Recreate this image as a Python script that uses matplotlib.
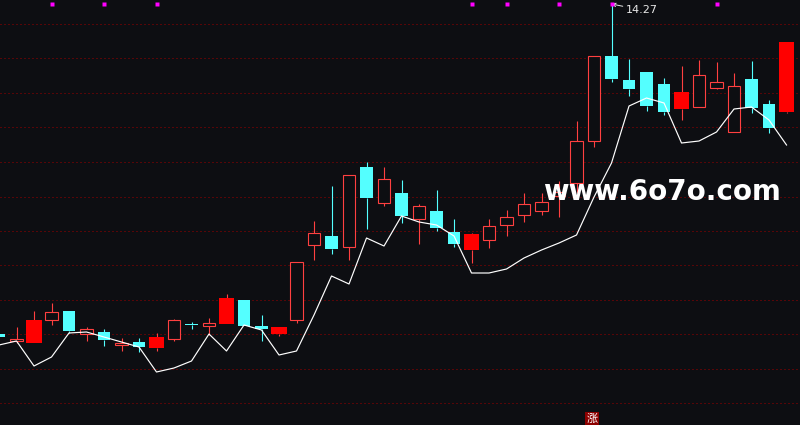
import matplotlib
matplotlib.use("Agg")
import matplotlib.pyplot as plt
from matplotlib.patches import Rectangle

# values, one entry per session
# c = falling (cyan), h = rising (hollow red), f = rising (filled red)
kinds = list("chfhchchcfhchfccfhhchchchccfhhhhhhhccccfhhhccf")
highs = [7.67, 7.81, 8.13, 8.29, 8.13, 7.81, 7.77, 7.59, 7.59, 7.69, 7.97, 7.91, 7.99, 8.47, 8.35, 8.05,
         7.81, 9.12, 9.93, 10.63, 10.85, 11.11, 11.01, 10.75, 10.27, 10.55, 9.97, 9.69, 9.97, 10.15, 10.49,
         10.49, 10.73, 11.93, 13.23, 14.27, 13.17, 12.91, 12.79, 13.03, 13.15, 13.11, 12.89, 13.13, 12.35, 13.51]
tops = [7.67, 7.57, 7.95, 8.11, 8.13, 7.77, 7.71, 7.49, 7.51, 7.61, 7.95, 7.87, 7.89, 8.39, 8.35, 7.83,
        7.81, 9.12, 9.69, 9.63, 10.85, 11.01, 10.77, 10.49, 10.23, 10.13, 9.71, 9.67, 9.83, 10.01, 10.27,
        10.31, 10.51, 11.53, 13.23, 13.23, 12.75, 12.91, 12.67, 12.51, 12.85, 12.71, 12.63, 12.77, 12.27, 13.51]
bottoms = [7.61, 7.53, 7.49, 7.96, 7.73, 7.67, 7.55, 7.45, 7.41, 7.39, 7.57, 7.85, 7.83, 7.87, 7.83, 7.77,
           7.67, 7.96, 9.45, 9.37, 9.41, 10.39, 10.29, 10.03, 9.97, 9.79, 9.47, 9.35, 9.55, 9.85, 10.05,
           10.13, 10.43, 10.69, 11.53, 12.77, 12.57, 12.23, 12.11, 12.17, 12.21, 12.59, 11.71, 12.19, 11.79, 12.11]
lows = [7.61, 7.49, 7.49, 7.85, 7.69, 7.53, 7.43, 7.33, 7.31, 7.33, 7.53, 7.77, 7.65, 7.87, 7.83, 7.53,
        7.63, 7.89, 9.15, 9.27, 9.15, 9.77, 10.23, 9.89, 9.47, 9.73, 9.41, 9.09, 9.39, 9.63, 9.91,
        10.05, 10.01, 10.49, 11.41, 12.71, 12.43, 12.13, 12.05, 11.95, 12.21, 12.57, 11.71, 12.09, 11.69, 12.09]
ma_line = [7.45, 7.53, 7.03, 7.21, 7.69, 7.71, 7.61, 7.51, 7.41, 6.91, 6.99, 7.13, 7.67, 7.33, 7.85, 7.75,
           7.25, 7.33, 8.05, 8.83, 8.67, 9.59, 9.43, 10.03, 9.91, 9.85, 9.63, 8.89, 8.89, 8.97, 9.19,
           9.35, 9.49, 9.65, 10.41, 11.09, 12.23, 12.39, 12.29, 11.49, 11.53, 11.71, 12.17, 12.21, 11.95, 11.45]
grid_levels = [13.87, 13.19, 12.49, 11.81, 11.11, 10.41, 9.73, 9.05, 8.35, 7.67, 6.97, 6.29]
signal_days = [3, 6, 9, 27, 29, 32, 35, 41]
signal_level = 14.28
peak_day = 35
peak_price = 14.27

BG = "#0d0e12"
RED = "#ff4040"
FILLED = "#ff0000"
CYAN = "#54ffff"

fig = plt.figure(figsize=(8, 4.25), dpi=100, facecolor=BG)
ax = fig.add_axes([0, 0, 1, 1], facecolor=BG)
ax.set_xlim(0.057, 45.77)
ax.set_ylim(5.85, 14.35)
ax.axis("off")

for level in grid_levels:
    ax.axhline(level, color="#a00000", lw=0.72, ls=(0, (1, 3)), zorder=1)

for i in range(len(kinds)):
    kind = kinds[i]
    if kind == "c":
        col = CYAN
    elif kind == "f":
        col = FILLED
    else:
        col = RED
    wick = CYAN if kind == "c" else RED
    ax.vlines(i, tops[i], highs[i], color=wick, lw=0.8, zorder=2, snap=True)
    ax.vlines(i, lows[i], bottoms[i], color=wick, lw=0.8, zorder=2, snap=True)
    width = 0.86 if kind == "f" else 0.72
    height = tops[i] - bottoms[i]
    if kind == "h":
        ax.add_patch(Rectangle((i - width / 2, bottoms[i]), width, height, fc=BG, ec=col, lw=0.8, zorder=3,
                               snap=True, joinstyle="miter"))
    else:
        ax.add_patch(Rectangle((i - width / 2, bottoms[i]), width, height, fc=col, ec="none", zorder=3, snap=True))

ax.plot(range(len(ma_line)), ma_line, color="white", lw=0.85, zorder=4)
ax.plot(signal_days, [signal_level] * len(signal_days), ls="none", marker="s", ms=2.2, mfc="#ff00ff", mec="none", zorder=5)

ax.annotate(str(peak_price), xy=(peak_day, peak_price), xytext=(35.8, 14.15), color="#e8e8e8", fontsize=8,
            va="center", ha="left", family="DejaVu Sans",
            arrowprops=dict(arrowstyle="->", color="#e8e8e8", lw=0.7, shrinkA=0, shrinkB=0, mutation_scale=6))

ax.text(0.8275, 0.548, "www.6o7o.com", transform=ax.transAxes, color="white", fontsize=20, fontweight="bold",
        family="DejaVu Sans", ha="center", va="center", zorder=6)

ax.text(0.74, 0.015, "涨", transform=ax.transAxes, color="white", fontsize=8, ha="center", va="center",
        family=["Noto Sans CJK SC", "DejaVu Sans"], zorder=6,
        bbox=dict(boxstyle="square,pad=0.12", fc="#8c0000", ec="none"))

fig.savefig("out.png", dpi=100, facecolor=BG)
